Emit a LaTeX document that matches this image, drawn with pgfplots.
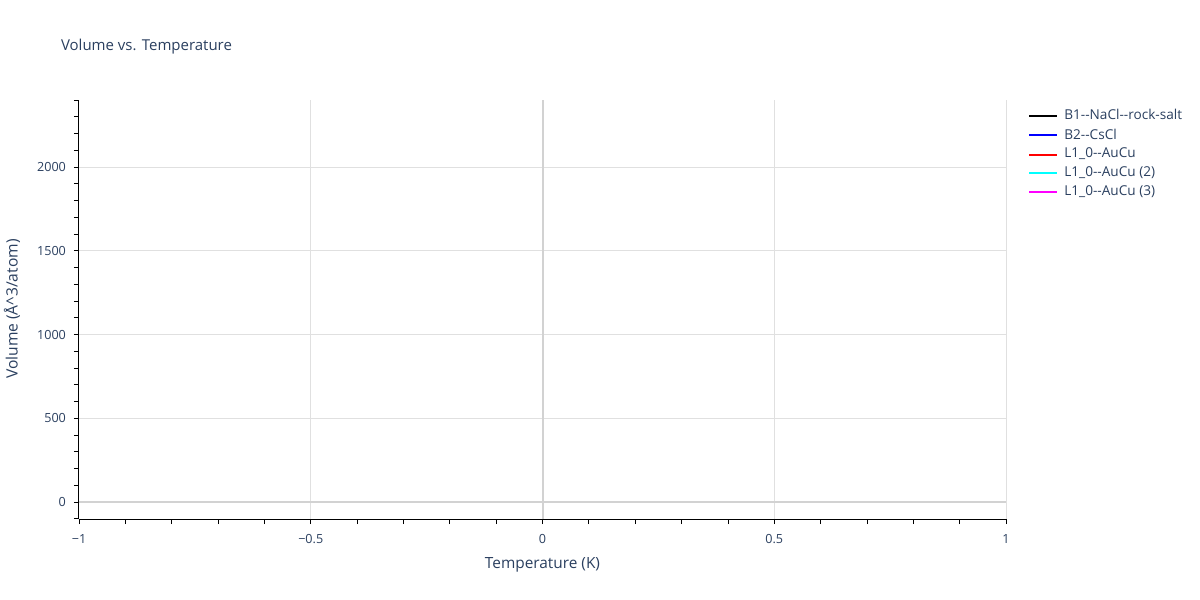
\documentclass[border=0pt]{standalone}
\usepackage{fontspec}
\setmainfont{Open Sans}
\usepackage{pgfplots}
\pgfplotsset{compat=1.18}
\definecolor{txt}{HTML}{2A3F5F}
\definecolor{gridc}{HTML}{E0E0E0}
\definecolor{zeroc}{HTML}{D2D2D2}
\definecolor{sblack}{HTML}{000000}
\definecolor{sblue}{HTML}{0000FF}
\definecolor{sred}{HTML}{FF0000}
\definecolor{scyan}{HTML}{00FFFF}
\definecolor{smag}{HTML}{FF00FF}
\begin{document}
\begin{tikzpicture}
\useasboundingbox (0pt,0pt) rectangle (600pt,300pt);
\begin{axis}[
  at={(39.5pt,40.5pt)}, anchor=south west, scale only axis,
  width=463.5pt, height=209.5pt,
  xmin=-1, xmax=1, ymin=-101.7, ymax=2400.7,
  axis lines*=left, axis line style={-, black, line width=0.5pt},
  xtick={-1,-0.5,0,0.5,1}, xticklabels={−1,−0.5,0,0.5,1},
  minor xtick={-0.9,-0.8,-0.7,-0.6,-0.4,-0.3,-0.2,-0.1,0.1,0.2,0.3,0.4,0.6,0.7,0.8,0.9},
  ytick={0,500,1000,1500,2000},
  minor ytick={-100,100,200,300,400,600,700,800,900,1100,1200,1300,1400,1600,1700,1800,1900,2100,2200,2300,2400},
  tick align=outside, major tick length=2.5pt, minor tick length=2.5pt,
  tick style={black, line width=0.5pt},
  every tick/.style={black}, minor tick style={black},
  xmajorgrids, ymajorgrids, major grid style={gridc, line width=0.5pt},
  tick label style={text=txt, font=\fontsize{6.3}{7.5}\selectfont},
  /pgf/number format/assume math mode=true,
  /pgf/number format/1000 sep={},
  yticklabel style={xshift=-0.5pt},
  xticklabel style={yshift=-1.5pt},
  title={Volume vs. Temperature},
  title style={at={(axis description cs:-0.027,1.098)}, anchor=west, text=txt, font=\fontsize{7.5}{9}\selectfont},
  xlabel={Temperature (K)},
  xlabel style={at={(axis description cs:0.5,-0.110)}, anchor=center, text=txt, font=\fontsize{7.7}{9}\selectfont},
  ylabel={Volume (Å\^{}3/atom)},
  ylabel style={at={(axis description cs:-0.0722,0.501)}, anchor=center, rotate=0, text=txt, font=\fontsize{7.8}{9}\selectfont},
  legend style={at={(axis description cs:1.0237,0.988)}, anchor=north west, draw=none, fill=none,
    font=\fontsize{6.8}{8}\selectfont, text=txt, row sep=-1.0pt, inner sep=0pt,
    cells={anchor=west}},
  legend image code/.code={\draw[#1, line width=1pt] (0pt,0pt) -- (14pt,0pt); \path (15pt,0pt);},
]
\draw[zeroc, line width=1pt] (axis cs:0,-101.7) -- (axis cs:0,2400.7);
\draw[zeroc, line width=1pt] (axis cs:-1,0) -- (axis cs:1,0);
\addplot[sblack, line width=1pt] coordinates {(0,0)};
\addlegendentry{B1-{}-NaCl-{}-rock-salt}
\addplot[sblue, line width=1pt] coordinates {(0,0)};
\addlegendentry{B2-{}-CsCl}
\addplot[sred, line width=1pt] coordinates {(0,0)};
\addlegendentry{L1\_0-{}-AuCu}
\addplot[scyan, line width=1pt] coordinates {(0,0)};
\addlegendentry{L1\_0-{}-AuCu (2)}
\addplot[smag, line width=1pt] coordinates {(0,0)};
\addlegendentry{L1\_0-{}-AuCu (3)}
\end{axis}
\end{tikzpicture}
\end{document}
